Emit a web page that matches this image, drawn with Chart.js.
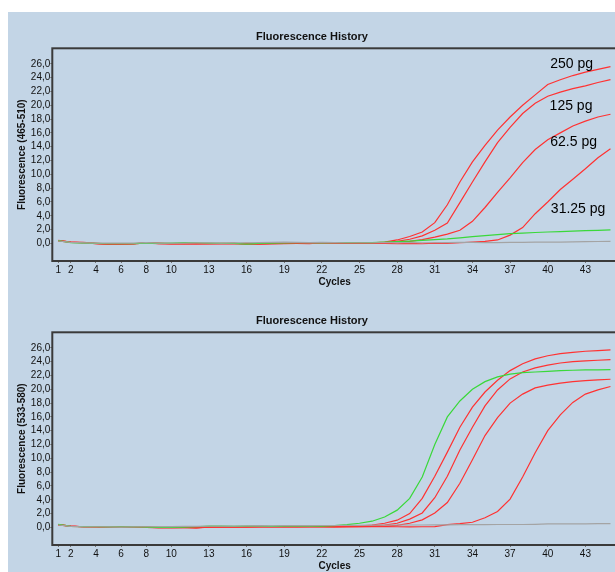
<!DOCTYPE html>
<html><head><meta charset="utf-8">
<script src="https://cdn.jsdelivr.net/npm/chart.js@4.4.1/dist/chart.umd.min.js"></script>
<style>
html,body{margin:0;padding:0;background:#fff;overflow:hidden;width:615px;height:572px;}
#bg{position:absolute;left:8px;top:12px;width:607px;height:560px;background:#C3D5E6;overflow:hidden;}
.wrap{position:absolute;left:0;width:616px;height:284px;}
canvas{display:block;}
</style></head>
<body>
<div id="bg">
  <div class="wrap" style="top:0px"><canvas id="c1" width="616" height="284"></canvas></div>
  <div class="wrap" style="top:284px"><canvas id="c2" width="616" height="284"></canvas></div>
</div>
<script>
const cycles = [1,2,3,4,5,6,7,8,9,10,11,12,13,14,15,16,17,18,19,20,21,22,23,24,25,26,27,28,29,30,31,32,33,34,35,36,37,38,39,40,41,42,43,44,45];
const xTickValues = [1,2,4,6,8,10,13,16,19,22,25,28,31,34,37,40,43];
const yTickValues = [0,2,4,6,8,10,12,14,16,18,20,22,24,26];
const yTickLabels = ['0,0','2,0','4,0','6,0','8,0','10,0','12,0','14,0','16,0','18,0','20,0','22,0','24,0','26,0'];

// Top chart: Fluorescence (465-510)
const topGray = [0.35,0.15,0.08,0.05,0.03,0.03,0.05,0.12,0.05,0.03,0.05,0.08,0.08,0.05,0.08,0.1,0.12,0.15,0.18,0.15,0.12,0.15,0.12,0.1,0.1,0.1,0.12,0.12,0.12,0.1,0.1,0.12,0.15,0.15,0.12,0.12,0.15,0.15,0.18,0.2,0.2,0.22,0.25,0.28,0.3];
const topGreen = [0.4,0.12,0.05,0.0,-0.05,-0.05,-0.03,0.05,0.02,0.05,0.12,0.1,0.05,0.02,0.0,-0.1,0.0,0.05,0.08,0.1,0.1,0.08,0.1,0.12,0.1,0.12,0.18,0.25,0.33,0.43,0.55,0.65,0.8,0.98,1.12,1.27,1.42,1.5,1.58,1.65,1.72,1.78,1.84,1.9,1.97];
const top250 = [0.45,0.2,0.15,0.02,-0.08,-0.08,-0.05,0.12,-0.02,-0.05,0.0,-0.02,-0.05,0.02,0.0,-0.05,-0.08,0.02,0.05,0.0,-0.02,0.1,0.05,0.08,0.05,0.1,0.2,0.5,1.0,1.65,3.0,5.6,8.9,11.8,14.2,16.4,18.3,20.0,21.5,23.0,23.7,24.3,24.8,25.2,25.6];
const top125 = [0.4,0.18,0.12,0.0,-0.1,-0.08,-0.05,0.05,-0.05,-0.08,-0.05,0.0,-0.03,-0.05,0.0,-0.1,-0.05,-0.02,0.02,0.05,0.0,0.05,0.02,0.05,0.08,0.05,0.1,0.3,0.6,1.1,1.9,2.95,5.9,8.9,11.8,14.6,16.8,18.8,20.3,21.3,21.9,22.4,22.8,23.3,23.7];
const top62 = [0.35,0.15,0.1,-0.05,-0.1,-0.1,-0.08,0.08,0.0,-0.05,-0.08,-0.05,0.0,-0.02,-0.05,0.0,-0.05,0.0,-0.03,0.02,0.05,0.08,0.05,0.02,0.05,0.08,0.1,0.15,0.3,0.55,0.9,1.35,1.9,3.2,5.2,7.4,9.5,11.7,13.6,15.0,16.0,17.0,17.7,18.3,18.7];
const top31 = [0.4,0.2,0.1,-0.02,-0.08,-0.05,-0.05,0.1,0.05,-0.02,-0.05,-0.08,-0.02,-0.05,-0.02,-0.05,-0.1,-0.05,0.0,0.0,0.02,0.05,0.0,0.02,0.0,0.05,0.02,-0.05,0.02,-0.05,0.05,0.02,0.1,0.2,0.3,0.5,1.2,2.3,4.3,6.0,7.8,9.3,10.8,12.4,13.7];

// Bottom chart: Fluorescence (533-580)
const botGray = [0.35,0.15,0.1,0.1,0.08,0.05,0.08,0.1,0.1,0.12,0.15,0.15,0.2,0.2,0.2,0.22,0.25,0.22,0.25,0.25,0.25,0.28,0.28,0.3,0.3,0.32,0.32,0.35,0.35,0.35,0.38,0.38,0.4,0.4,0.4,0.42,0.42,0.42,0.45,0.5,0.5,0.5,0.52,0.55,0.55];
const botGreen = [0.45,0.15,0.12,0.1,0.08,0.08,0.1,0.05,0.0,0.0,0.05,0.1,0.2,0.2,0.15,0.2,0.18,0.15,0.2,0.22,0.18,0.2,0.25,0.4,0.6,0.9,1.5,2.5,4.2,7.3,12.0,16.0,18.3,20.0,21.1,21.8,22.2,22.4,22.5,22.6,22.7,22.75,22.8,22.8,22.85];
const botRed1 = [0.4,0.2,0.1,0.1,0.05,0.05,0.08,0.05,0.0,-0.02,0.0,-0.02,0.05,0.1,0.1,0.12,0.1,0.08,0.1,0.12,0.1,0.1,0.12,0.15,0.2,0.35,0.6,1.05,2.0,4.2,7.4,10.9,14.5,17.4,19.6,21.3,22.7,23.7,24.4,24.85,25.15,25.35,25.5,25.6,25.7];
const botRed2 = [0.35,0.15,0.12,0.1,0.08,0.05,0.05,0.02,-0.05,-0.05,0.0,-0.05,0.08,0.1,0.05,0.1,0.12,0.1,0.08,0.1,0.12,0.1,0.1,0.12,0.15,0.2,0.35,0.6,1.2,2.1,4.3,7.4,11.2,14.5,17.6,19.9,21.5,22.5,23.1,23.5,23.8,24.0,24.1,24.2,24.3];
const botRed3 = [0.38,0.18,0.1,0.1,0.05,0.08,0.05,0.05,-0.02,0.0,0.05,-0.08,0.05,0.08,0.1,0.08,0.1,0.1,0.12,0.1,0.1,0.12,0.1,0.1,0.12,0.15,0.2,0.3,0.6,1.1,2.1,3.6,6.4,9.8,13.3,15.9,18.0,19.3,20.2,20.6,20.9,21.1,21.25,21.35,21.45];
const botRed4 = [0.4,0.2,0.1,0.08,0.05,0.05,0.05,0.0,-0.05,-0.05,0.0,-0.05,0.05,0.05,0.08,0.05,0.08,0.1,0.1,0.08,0.1,0.1,0.08,0.1,0.1,0.1,0.12,0.1,0.08,0.1,0.12,0.4,0.55,0.75,1.4,2.3,4.1,7.3,10.8,14.0,16.3,18.1,19.3,19.9,20.4];

// Annotations on top chart
const annoText = ['250 pg','125 pg','62.5 pg','31.25 pg'];
const annoCycle = [40.2,40.15,40.2,40.25];
const annoValue = [26.0,19.8,14.7,4.9];

const RED = '#ff3232', GREEN = '#3ad83a', GRAY = '#a4a4a4';

function series(vals){ return vals.map((v,i)=>({x:cycles[i], y:v})); }
function ds(vals, color){ return {data:series(vals), borderColor:color, borderWidth:1.2, pointRadius:0, tension:0, fill:false}; }

const framePlugin = {
  id:'frame',
  afterDatasetsDraw(chart){
    const {ctx, chartArea:a} = chart;
    ctx.save();
    ctx.strokeStyle = '#3a3a3a';
    ctx.lineWidth = 2;
    ctx.strokeRect(a.left-1, a.top-1, a.right-a.left+2, a.bottom-a.top+2);
    ctx.restore();
  }
};

function annoPlugin(texts, xs, ys){
  return {
    id:'anno',
    afterDraw(chart){
      const {ctx, scales} = chart;
      ctx.save();
      ctx.font = '14px Arial, "Liberation Sans", sans-serif';
      ctx.fillStyle = '#000';
      ctx.textAlign = 'left';
      ctx.textBaseline = 'middle';
      texts.forEach((t,i)=>{
        ctx.fillText(t, scales.x.getPixelForValue(xs[i]), scales.y.getPixelForValue(ys[i]));
      });
      ctx.restore();
    }
  };
}

const FONT = 'Arial, "Liberation Sans", sans-serif';

function makeChart(id, yTitle, datasets, plugins){
  return new Chart(document.getElementById(id), {
    type:'line',
    data:{datasets},
    options:{
      responsive:false, animation:false, devicePixelRatio:1,
      layout:{padding:{left:0,right:8,top:0,bottom:0}},
      plugins:{
        legend:{display:false}, tooltip:{enabled:false},
        title:{display:true, text:'Fluorescence History', color:'#111',
          font:{family:FONT, size:11, weight:'bold'}, padding:{top:18.1,bottom:6}}
      },
      scales:{
        x:{type:'linear', min:0.6, max:45.44,
          afterBuildTicks:s=>{ s.ticks = xTickValues.map(v=>({value:v})); },
          afterFit:s=>{ s.height = 36; },
          ticks:{autoSkip:false, maxRotation:0, minRotation:0, padding:1, color:'#111',
            font:{family:FONT, size:10}, callback:v=>String(v)},
          grid:{drawOnChartArea:false, drawTicks:true, tickLength:3, color:'#777'},
          border:{display:false},
          title:{display:true, text:'Cycles', color:'#111', font:{family:FONT, size:10, weight:'bold'}, padding:{top:0,bottom:7.7}}
        },
        y:{type:'linear', min:-2.4, max:28.1,
          afterBuildTicks:s=>{ s.ticks = yTickValues.map(v=>({value:v})); },
          afterFit:s=>{ s.width = 45.3; },
          ticks:{padding:0, color:'#111', font:{family:FONT, size:10},
            callback:(v,i)=>yTickLabels[yTickValues.indexOf(v)]},
          grid:{drawOnChartArea:false, drawTicks:true, tickLength:3, color:'#777'},
          border:{display:false},
          title:{display:true, text:yTitle, color:'#111', font:{family:FONT, size:10, weight:'bold'}, padding:{top:8.7,bottom:0}}
        }
      }
    },
    plugins:[framePlugin].concat(plugins)
  });
}

makeChart('c1', 'Fluorescence (465-510)', [
  ds(topGray, GRAY), ds(topGreen, GREEN),
  ds(top31, RED), ds(top62, RED), ds(top125, RED), ds(top250, RED)
], [annoPlugin(annoText, annoCycle, annoValue)]);

makeChart('c2', 'Fluorescence (533-580)', [
  ds(botGray, GRAY), ds(botGreen, GREEN),
  ds(botRed4, RED), ds(botRed3, RED), ds(botRed2, RED), ds(botRed1, RED)
], []);
</script>
</body></html>
